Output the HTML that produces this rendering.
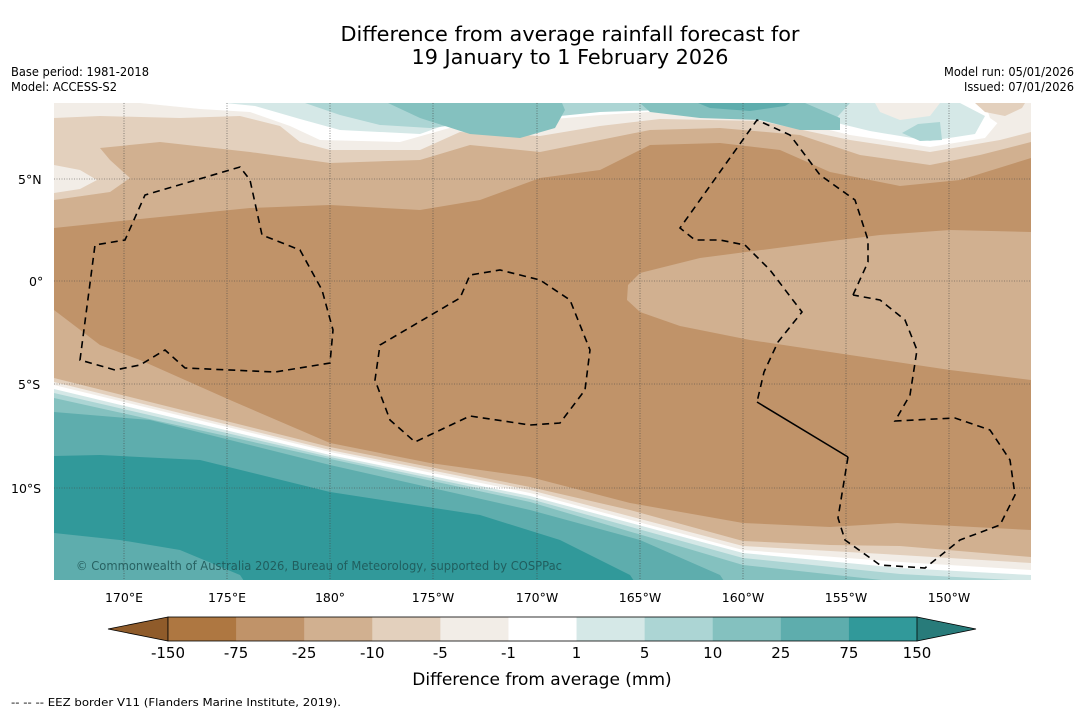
<!DOCTYPE html>
<html><head><meta charset="utf-8">
<style>
html,body{margin:0;padding:0;background:#fff;}
svg{display:block;font-family:"DejaVu Sans","Liberation Sans",sans-serif;}
</style></head>
<body>
<svg width="1085" height="713" viewBox="0 0 1085 713">
<text x="570" y="41" font-size="20" text-anchor="middle" textLength="459" lengthAdjust="spacingAndGlyphs">Difference from average rainfall forecast for</text>
<text x="570" y="64" font-size="20" text-anchor="middle" textLength="317" lengthAdjust="spacingAndGlyphs">19 January to 1 February 2026</text>
<text x="11" y="76" font-size="12" textLength="138" lengthAdjust="spacingAndGlyphs">Base period: 1981-2018</text>
<text x="11" y="91" font-size="12" textLength="106" lengthAdjust="spacingAndGlyphs">Model: ACCESS-S2</text>
<text x="1074" y="76" font-size="12" text-anchor="end" textLength="130" lengthAdjust="spacingAndGlyphs">Model run: 05/01/2026</text>
<text x="1074" y="91" font-size="12" text-anchor="end" textLength="110" lengthAdjust="spacingAndGlyphs">Issued: 07/01/2026</text>

<defs><clipPath id="mapclip"><rect x="54" y="103" width="977" height="477"/></clipPath></defs>
<g id="map" clip-path="url(#mapclip)">
<rect x="54" y="103" width="977" height="477" fill="#c09369"/>
<path fill="#d1b090" d="M54,103 L54,228 L150,218 L250,208 L330,205 L420,210 L480,200 L540,178 L600,170 L650,145 L720,143 L780,150 L830,172 L900,186 L960,180 L1031,158 L1031,103 Z"/>
<path fill="#e3d0bd" d="M54,103 L54,200 L110,192 L130,178 L110,160 L100,148 L160,142 L250,152 L330,163 L420,160 L470,145 L540,152 L600,140 L650,130 L720,128 L800,135 L860,155 L930,165 L980,155 L1031,142 L1031,103 Z"/>
<path fill="#f2ede7" d="M54,103 L54,118 L100,116 L180,118 L240,116 L280,126 L300,142 L330,150 L420,150 L460,132 L540,136 L600,126 L660,119 L760,121 L850,140 L930,152 L1000,140 L1031,132 L1031,103 Z"/>
<path fill="#f2ede7" d="M54,165 L80,170 L97,180 L80,189 L54,193 Z"/>
<path fill="#ffffff" d="M140,103 L200,109 L250,112 L290,126 L320,140 L400,142 L460,125 L520,122 L600,115 L680,110 L780,118 L850,135 L930,147 L985,138 L1000,120 L1031,118 L1031,103 Z"/>
<path fill="#d5e8e7" d="M225,103 L255,106 L300,119 L340,130 L420,134 L460,120 L530,114 L620,107 L700,107 L800,114 L870,131 L930,141 L975,134 L985,116 L960,103 Z"/>
<path fill="#f2ede7" d="M875,103 L880,112 L900,120 L930,116 L940,103 Z"/>
<path fill="#f2ede7" d="M985,103 L990,118 L1010,132 L1031,128 L1031,103 Z"/>
<path fill="#e3d0bd" d="M975,103 L985,112 L1005,116 L1022,108 L1025,103 Z"/>
<path fill="#acd5d4" d="M305,103 L340,115 L380,125 L430,128 L480,122 L540,118 L600,112 L660,110 L760,112 L830,125 L850,103 Z"/>
<path fill="#acd5d4" d="M902,133 L918,124 L940,122 L942,140 L920,141 Z"/>
<path fill="#84c1bf" d="M388,103 L420,118 L470,134 L520,138 L555,128 L565,110 L562,103 Z"/>
<path fill="#84c1bf" d="M640,103 L650,112 L700,118 L760,120 L800,130 L840,130 L840,118 L805,103 Z"/>
<path fill="#5eadad" d="M698,103 L710,108 L750,111 L785,106 L790,103 Z"/>
<path fill="#d1b090" d="M640,273 L700,258 L800,245 L880,235 L950,230 L1031,232 L1031,380 L950,370 L850,355 L750,340 L680,326 L640,312 L627,300 L628,285 Z"/>
<path fill="#d1b090" d="M54,310 L100,345 L140,360 L230,400 L330,443 L430,463 L530,477 L630,503 L743,523 L830,527 L897,523 L1031,530 L1031,580 L54,580 Z"/>
<path fill="#e3d0bd" d="M54,378 L150,402 L330,447 L530,487 L630,510 L743,541 L830,545 L900,546 L1031,557 L1031,580 L54,580 Z"/>
<path fill="#f2ede7" d="M54,382 L330,450 L530,490 L743,546 L900,555 L1031,563 L1031,580 L54,580 Z"/>
<path fill="#ffffff" d="M54,385 L330,452 L530,493 L743,550 L900,562 L1031,570 L1031,580 L54,580 Z"/>
<path fill="#d5e8e7" d="M54,389 L330,455 L530,496 L743,553 L900,568 L1031,575 L1031,580 L54,580 Z"/>
<path fill="#acd5d4" d="M54,393 L330,457 L530,499 L743,558 L900,574 L1031,581 L1031,590 L54,590 Z"/>
<path fill="#84c1bf" d="M54,398 L330,459 L530,502 L743,565 L900,582 L900,590 L54,590 Z"/>
<path fill="#5eadad" d="M54,412 L150,420 L330,465 L530,510 L640,540 L720,575 L730,590 L54,590 Z"/>
<path fill="#31999a" d="M54,456 L100,455 L200,460 L330,492 L480,515 L560,540 L630,575 L640,590 L54,590 Z"/>
<path fill="#5eadad" d="M54,533 L120,540 L180,550 L240,575 L250,590 L54,590 Z"/>
<g stroke="#444" stroke-width="0.6" stroke-dasharray="1,1.5" fill="none">
<path d="M124,103V580M227,103V580M330,103V580M433,103V580M537,103V580M640,103V580M743,103V580M846,103V580M949,103V580"/>
<path d="M54,179H1031M54,281H1031M54,384H1031M54,488H1031"/>
</g>
<g stroke="#000" stroke-width="1.6" stroke-dasharray="7,5" fill="none">
<path d="M80,360 L95,245 L125,240 L145,195 L240,167 L250,180 L262,235 L300,250 L322,290 L333,330 L330,363 L275,372 L185,368 L165,350 L140,365 L115,370 Z"/>
<path d="M380,345 L460,298 L470,275 L500,270 L540,280 L570,300 L590,350 L585,390 L560,423 L530,425 L470,416 L415,442 L390,420 L375,380 Z"/>
<path d="M853,295 L868,262 L868,240 L855,200 L820,175 L790,135 L757,120 L680,228 L695,240 L720,240 L745,245 L770,270 L802,312 L778,342 L764,372 L757,402"/>
<path d="M848,457 L838,518 L845,540 L880,565 L925,568 L960,540 L1000,525 L1015,495 L1010,460 L990,430 L955,418 L895,421 L910,395 L917,350 L905,320 L880,300 L853,295"/>
</g>
<path d="M757,402 L848,457" stroke="#000" stroke-width="1.6" fill="none"/>
<text x="76" y="570" font-size="12" fill="#1d5454" fill-opacity="0.85" textLength="486" lengthAdjust="spacingAndGlyphs">© Commonwealth of Australia 2026, Bureau of Meteorology, supported by COSPPac</text>
</g>
<g font-size="12.5">
<text x="18" y="184">5°N</text>
<text x="29" y="286">0°</text>
<text x="18" y="389">5°S</text>
<text x="11" y="493">10°S</text>
<g text-anchor="middle">
<text x="124" y="602">170°E</text>
<text x="227" y="602">175°E</text>
<text x="330" y="602">180°</text>
<text x="433" y="602">175°W</text>
<text x="537" y="602">170°W</text>
<text x="640" y="602">165°W</text>
<text x="743" y="602">160°W</text>
<text x="846" y="602">155°W</text>
<text x="949" y="602">150°W</text>
</g></g>
<g id="colorbar"></g>
<text x="542" y="685" font-size="17" text-anchor="middle">Difference from average (mm)</text>
<text x="11" y="706" font-size="11" textLength="330" lengthAdjust="spacingAndGlyphs">--  --  -- EEZ border V11 (Flanders Marine Institute, 2019).</text>
</svg>
<script>
var levelLabels = ["-150","-75","-25","-10","-5","-1","1","5","10","25","75","150"];
var binColors = ["#ae7741","#c09369","#d1b090","#e3d0bd","#f2ede7","#ffffff","#d5e8e7","#acd5d4","#84c1bf","#5eadad","#31999a"];
var extendColors = ["#8f5b2a","#287b7a"];
(function(){
  var ns="http://www.w3.org/2000/svg";
  var g=document.getElementById('colorbar');
  var x0=168,x1=917,y0=617,h=24,n=binColors.length,w=(x1-x0)/n;
  function xs(i){return x0+i*w;}
  var lt=document.createElementNS(ns,'path');
  lt.setAttribute('d','M'+x0+','+y0+' L108,'+(y0+h/2)+' L'+x0+','+(y0+h)+' Z');
  lt.setAttribute('fill',extendColors[0]);lt.setAttribute('stroke','#000');lt.setAttribute('stroke-width','0.8');
  
  
  g.appendChild(lt);
  var rt=document.createElementNS(ns,'path');
  rt.setAttribute('d','M'+x1+','+y0+' L976,'+(y0+h/2)+' L'+x1+','+(y0+h)+' Z');
  rt.setAttribute('fill',extendColors[1]);rt.setAttribute('stroke','#000');rt.setAttribute('stroke-width','0.8');
  
  
  g.appendChild(rt);
  for(var i=0;i<n;i++){
    var r=document.createElementNS(ns,'rect');
    r.setAttribute('x',xs(i));r.setAttribute('y',y0);r.setAttribute('width',w+0.5);r.setAttribute('height',h);
    r.setAttribute('fill',binColors[i]);
    
    
    g.appendChild(r);
  }
  var fr=document.createElementNS(ns,'rect');
  fr.setAttribute('x',x0);fr.setAttribute('y',y0);fr.setAttribute('width',x1-x0);fr.setAttribute('height',h);
  fr.setAttribute('fill','none');fr.setAttribute('stroke','#000');fr.setAttribute('stroke-width','0.8');
  
  
  g.appendChild(fr);
  for(var j=0;j<levelLabels.length;j++){
    var t=document.createElementNS(ns,'text');
    t.setAttribute('x',xs(j));t.setAttribute('y',658);t.setAttribute('font-size','15');t.setAttribute('text-anchor','middle');
    t.textContent=levelLabels[j];
    
    
    g.appendChild(t);
  }
})();
</script>
</body></html>
